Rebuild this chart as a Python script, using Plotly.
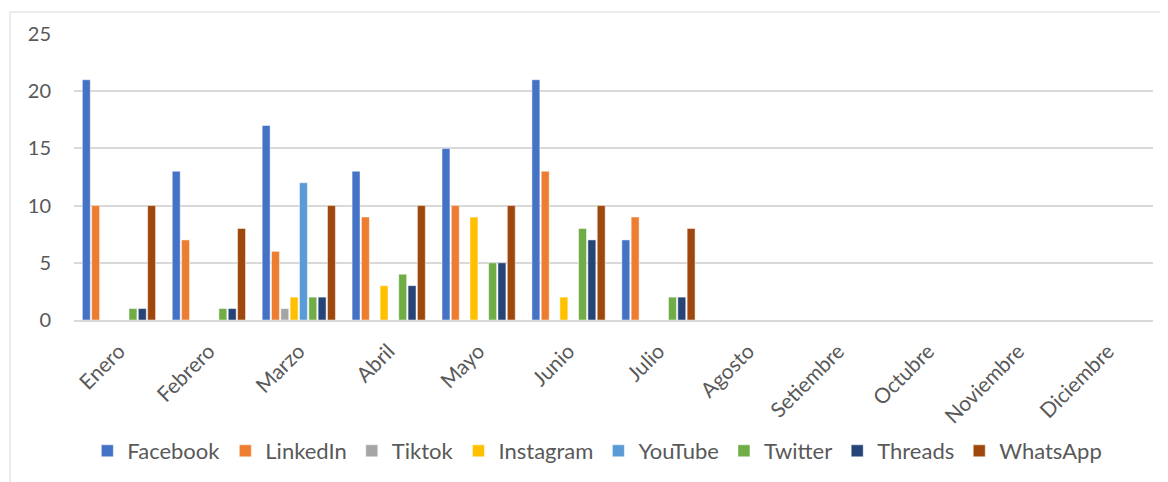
import plotly.graph_objects as go

months = ["Enero", "Febrero", "Marzo", "Abril", "Mayo", "Junio", "Julio",
          "Agosto", "Setiembre", "Octubre", "Noviembre", "Diciembre"]

facebook  = [21, 13, 17, 13, 15, 21, 7, None, None, None, None, None]
linkedin  = [10, 7, 6, 9, 10, 13, 9, None, None, None, None, None]
tiktok    = [0, 0, 1, 0, 0, 0, 0, None, None, None, None, None]
instagram = [0, 0, 2, 3, 9, 2, 0, None, None, None, None, None]
youtube   = [0, 0, 12, 0, 0, 0, 0, None, None, None, None, None]
twitter   = [1, 1, 2, 4, 5, 8, 2, None, None, None, None, None]
threads   = [1, 1, 2, 3, 5, 7, 2, None, None, None, None, None]
whatsapp  = [10, 8, 10, 10, 10, 10, 8, None, None, None, None, None]

series = [
    ("Facebook", facebook, "#4472C4"),
    ("LinkedIn", linkedin, "#ED7D31"),
    ("Tiktok", tiktok, "#A5A5A5"),
    ("Instagram", instagram, "#FFC000"),
    ("YouTube", youtube, "#5B9BD5"),
    ("Twitter", twitter, "#70AD47"),
    ("Threads", threads, "#264478"),
    ("WhatsApp", whatsapp, "#9E480E"),
]

font_family = "Lato, 'Open Sans', sans-serif"
text_color = "#595959"

fig = go.Figure()
for name, vals, color in series:
    fig.add_trace(go.Bar(
        x=months, y=vals, name=name,
        marker=dict(color=color, line=dict(color="rgba(255,255,255,0.6)", width=0.8)),
    ))

# page body has an 8px margin; compensate so the picture lines up
OFF = 8
W, H = 1168 - OFF, 482 - OFF
L, T = 74 - OFF, 34 - OFF
R = W - (1153 - OFF)
B = H - (321 - OFF)
pw = W - L - R
ph = H - T - B

fig.update_layout(
    width=W, height=H,
    margin=dict(l=L, r=R, t=T, b=B, pad=0),
    paper_bgcolor="white", plot_bgcolor="white",
    barmode="group", bargap=0.17, bargroupgap=0.15,
    font=dict(family=font_family, color=text_color, size=20),
    showlegend=True,
    legend=dict(orientation="h", x=0.485, xanchor="center",
                y=(321 - 451) / ph, yanchor="middle",
                font=dict(size=22, color=text_color),
                itemwidth=30, traceorder="normal"),
    xaxis=dict(type="category", tickangle=-45, showgrid=False,
               tickfont=dict(size=21, color=text_color),
               showline=True, linecolor="#d9d9d9", linewidth=1.5,
               ticks="", ticklabelstandoff=9, automargin=False, fixedrange=True),
    yaxis=dict(range=[0, 25], dtick=5, tick0=0, showgrid=True,
               gridcolor="#d9d9d9", gridwidth=1.5, zeroline=False,
               showline=False, ticks="", ticklabelstandoff=22, automargin=False,
               tickfont=dict(size=20, color=text_color), fixedrange=True),
    shapes=[dict(type="rect", xref="paper", yref="paper",
                 x0=(10 - 74) / pw, x1=(1168 + 20 - 74) / pw,
                 y0=-(482 + 20 - 321) / ph, y1=(321 - 12) / ph,
                 line=dict(color="#d9d9d9", width=1), layer="below")],
)

fig.write_html("out.html")
